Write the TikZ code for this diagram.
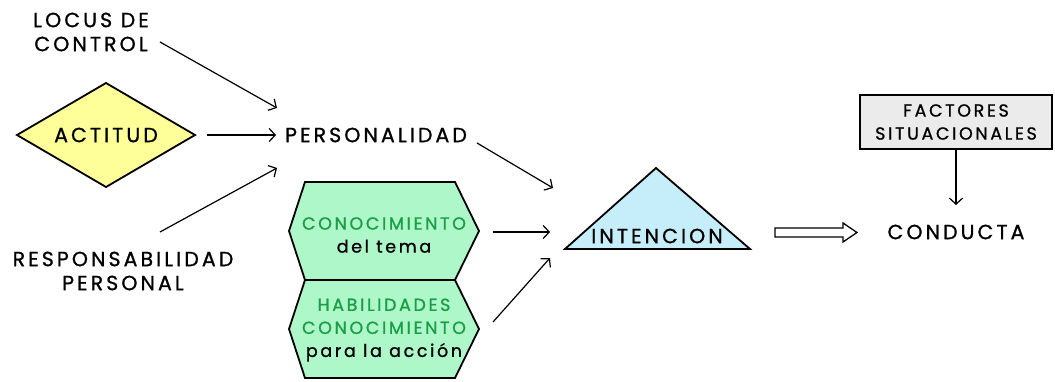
\documentclass[tikz,border=0pt]{standalone}
\usepackage{fontspec}
\setmainfont{Poppins}[LetterSpace=15, FakeBold=1]
\usetikzlibrary{arrows.meta}
\definecolor{dyellow}{HTML}{FFFF99}
\definecolor{hgreen}{HTML}{ADF7C8}
\definecolor{tgreen}{HTML}{1A9E45}
\definecolor{tblue}{HTML}{C6EEFA}
\definecolor{bgray}{HTML}{EBEBEB}
\tikzset{
  big/.style={font=\fontsize{20.5}{24}\selectfont, align=center, inner sep=0pt},
  small/.style={font=\fontsize{17.5}{23}\selectfont, align=center, inner sep=0pt},
  shapeline/.style={draw=black, line width=1.8pt, line join=miter},
  conn/.style={draw=black, line width=1.2pt, -{Straight Barb[length=6pt,width=13pt,line width=1.2pt]}},
}
\begin{document}
\begin{tikzpicture}[x=1pt,y=-1pt]
\useasboundingbox (0,0) rectangle (1055,382);
% diamond
\coordinate (dl) at (17,135); \coordinate (dt) at (106,83);
\coordinate (dr) at (195,135); \coordinate (db) at (106,187);
\path[shapeline, fill=dyellow] (dl) -- (dt) -- (dr) -- (db) -- cycle;
\node[big] (act) at (106,135) {ACTITUD};
% hexagons
\coordinate (h1w) at (289,231); \coordinate (h1nw) at (305,182); \coordinate (h1ne) at (455,182);
\coordinate (h1e) at (479,231); \coordinate (h1sw) at (305,280); \coordinate (h1se) at (455,280);
\path[shapeline, fill=hgreen] (h1w) -- (h1nw) -- (h1ne) -- (h1e) -- (h1se) -- (h1sw) -- cycle;
\coordinate (h2w) at (289,329); \coordinate (h2sw) at (305,378); \coordinate (h2se) at (455,378);
\coordinate (h2e) at (479,329);
\path[shapeline, fill=hgreen] (h2w) -- (h1sw) -- (h1se) -- (h2e) -- (h2se) -- (h2sw) -- cycle;
\node[small] (cono1) at (384,235) {\textcolor{tgreen}{CONOCIMIENTO}\\del tema};
\node[small] (cono2) at (384,330) {\textcolor{tgreen}{HABILIDADES}\\\textcolor{tgreen}{CONOCIMIENTO}\\para la acción};
% triangle
\coordinate (tt) at (656,168); \coordinate (tl) at (565,249); \coordinate (tr) at (750,249);
\path[shapeline, fill=tblue] (tt) -- (tr) -- (tl) -- cycle;
\node[big] (int) at (657,236) {INTENCION};
% texts
\node[big] (loc) at (91,32) {LOCUS DE\\CONTROL};
\node[big] (resp) at (123,271) {RESPONSABILIDAD\\PERSONAL};
\node[big] (pers) at (376,135) {PERSONALIDAD};
\node[big] (cond) at (956,232) {CONDUCTA};
\node[small, draw=black, line width=1.8pt, fill=bgray, minimum width=192pt, minimum height=54pt] (fact) at (956,122) {FACTORES\\SITUACIONALES};
% connectors
\coordinate (l1) at (160,42);  \coordinate (l2) at (277,108);
\coordinate (a1) at (207,135); \coordinate (a2) at (276,135);
\coordinate (r1) at (160,232); \coordinate (r2) at (277,168);
\coordinate (p1) at (477,143); \coordinate (p2) at (553,188);
\coordinate (k1) at (493,232); \coordinate (k2) at (550,232);
\coordinate (m1) at (493,322); \coordinate (m2) at (550,258);
\coordinate (f2) at (956,205);
\draw[conn] (l1) -- (l2);
\draw[conn] (a1) -- (a2);
\draw[conn] (r1) -- (r2);
\draw[conn] (p1) -- (p2);
\draw[conn] (k1) -- (k2);
\draw[conn] (m1) -- (m2);
\draw[conn] (fact.south) -- (f2);
% hollow arrow
\coordinate (ha) at (775,228); \coordinate (hb) at (843,228); \coordinate (hc) at (843,223);
\coordinate (hd) at (857,232.5); \coordinate (he) at (843,242); \coordinate (hf) at (843,237);
\coordinate (hg) at (775,237);
\draw[line width=1.3pt, fill=white, line join=miter] (ha) -- (hb) -- (hc) -- (hd) -- (he) -- (hf) -- (hg) -- cycle;
\end{tikzpicture}
\end{document}
